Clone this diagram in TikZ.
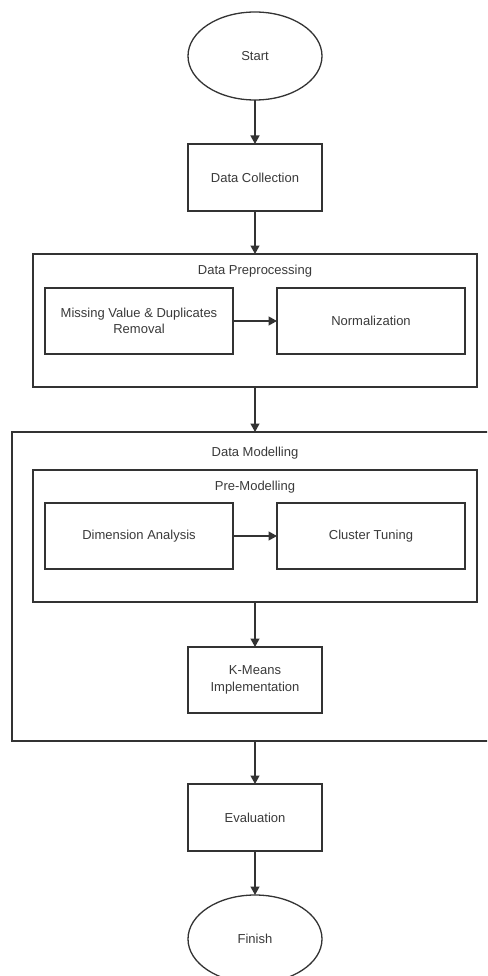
\documentclass[tikz,border=0pt]{standalone}
\usepackage{fontspec}
\setmainfont{Liberation Sans}
\usetikzlibrary{shapes.geometric,arrows.meta}
\definecolor{ln}{HTML}{333333}
\definecolor{tx}{HTML}{3A3A3A}
\begin{document}
\begin{tikzpicture}[x=1pt,y=1pt,
  every node/.style={inner sep=0pt,outer sep=0pt,font=\fontsize{13}{16.5}\selectfont,text=tx,align=center},
  box/.style={draw=ln,line width=1.3pt,rectangle},
  oval/.style={draw=ln,line width=1.3pt,ellipse,minimum width=134pt,minimum height=88pt},
  cont/.style={draw=ln,line width=1.3pt,rectangle},
  arr/.style={draw=ln,line width=1.3pt,-{Triangle[length=8.5pt,width=9pt]}}]
\useasboundingbox (0,0) rectangle (487,-976);
\clip (0,0) rectangle (487,-976);
\fill[white] (0,0) rectangle (487,-976);
% start
\node[oval] (start) at (255,-56) {Start};
\node[box,minimum width=134pt,minimum height=67pt] (dc) at (255,-177.5) {Data Collection};
% preprocessing
\node[cont,minimum width=444pt,minimum height=133pt] (dp) at (255,-320.5) {};
\node (dpt) at (255,-271) {Data Preprocessing};
\node[box,minimum width=188pt,minimum height=66pt] (mv) at (139,-321) {Missing Value \& Duplicates\\Removal};
\node[box,minimum width=188pt,minimum height=66pt] (nm) at (371,-321) {Normalization};
% modelling
\node[cont,minimum width=490pt,minimum height=309pt] (dm) at (257,-586.5) {};
\node (dmt) at (255,-453) {Data Modelling};
\node[cont,minimum width=444pt,minimum height=132pt] (pm) at (255,-536) {};
\node (pmt) at (255,-487) {Pre-Modelling};
\node[box,minimum width=188pt,minimum height=66pt] (da) at (139,-536) {Dimension Analysis};
\node[box,minimum width=188pt,minimum height=66pt] (ct) at (371,-536) {Cluster Tuning};
\node[box,minimum width=134pt,minimum height=66pt] (km) at (255,-680) {K-Means\\Implementation};
% evaluation and finish
\node[box,minimum width=134pt,minimum height=67pt] (ev) at (255,-817.5) {Evaluation};
\node[oval] (fin) at (255,-939) {Finish};
% connectors
\draw[arr] (start) -- (dc);
\draw[arr] (dc) -- (dp.north);
\draw[arr] (mv) -- (nm);
\draw[arr] (dp.south) -- (dp.south |- dm.north);
\draw[arr] (da) -- (ct);
\draw[arr] (pm.south) -- (km);
\draw[arr] (km.south |- dm.south) -- (ev);
\draw[arr] (ev) -- (fin);
\end{tikzpicture}
\end{document}
